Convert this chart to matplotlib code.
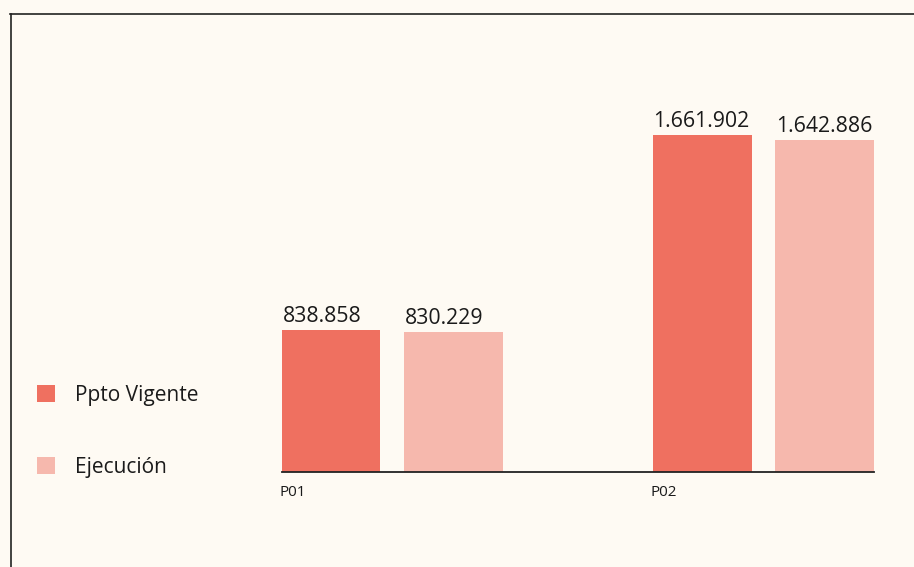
import matplotlib
matplotlib.use("Agg")
import matplotlib.pyplot as plt
from matplotlib.patches import Patch
from matplotlib.lines import Line2D
from matplotlib.transforms import ScaledTranslation
import numpy as np

plt.rcParams['font.family'] = ['Open Sans', 'DejaVu Sans']

categories = ["P01", "P02"]
series_names = ["Ppto Vigente", "Ejecución"]
ppto = [838858, 1661902]
ejec = [830229, 1642886]
value_labels_ppto = ["838.858", "1.661.902"]
value_labels_ejec = ["830.229", "1.642.886"]

colors = ["#EF7060", "#F6B8AD"]
bg = "#FEFAF3"

W, H = 914, 567
fig = plt.figure(figsize=(W / 100, H / 100), dpi=100, facecolor=bg)

left_px, right_px = 281.7, 873.5
bottom_px, top_px = 472.3, 60
ax = fig.add_axes([left_px / W, 1 - bottom_px / H, (right_px - left_px) / W, (bottom_px - top_px) / H])
ax.set_facecolor(bg)

x = np.arange(len(categories))
w = 0.266
off = 0.165
b1 = ax.bar(x - off, ppto, w, color=colors[0], label=series_names[0])
b2 = ax.bar(x + off, ejec, w, color=colors[1], label=series_names[1])

ax.set_xlim(-0.2965, 1.2965)
ax.set_ylim(238000, 1979000)

for bars, labs in ((b1, value_labels_ppto), (b2, value_labels_ejec)):
    for r, lab in zip(bars, labs):
        ax.annotate(lab, (r.get_x(), r.get_height()), xytext=(0.5, 2), textcoords="offset points",
                    ha="left", va="bottom", fontsize=15.3, color="#1a1a1a")

for s in ["top", "right", "left"]:
    ax.spines[s].set_visible(False)
ax.spines["bottom"].set_color("#222222")
ax.spines["bottom"].set_linewidth(1.3)
ax.set_yticks([])
ax.set_xticks(x - off - w / 2)
ax.set_xticklabels(categories, ha="left", fontsize=11, color="#1a1a1a")
ax.tick_params(axis="x", length=0, pad=9)
for lbl in ax.get_xticklabels():
    lbl.set_transform(lbl.get_transform() + ScaledTranslation(-2 / 100, 0, fig.dpi_scale_trans))

handles = [Patch(facecolor=c, edgecolor="none") for c in colors]
fig.legend(handles, series_names, loc="upper left", bbox_to_anchor=(18 / W, 1 - 366 / H),
           frameon=False, fontsize=15, handlelength=0.87, handleheight=0.87,
           handletextpad=0.95, labelspacing=2.45, labelcolor="#1a1a1a")

# outer frame lines (top and left)
fig.add_artist(Line2D([10.5 / W, 10.5 / W], [0, 1 - 14 / H], transform=fig.transFigure, color="#222222", lw=1.2))
fig.add_artist(Line2D([10 / W, 1], [1 - 14 / H, 1 - 14 / H], transform=fig.transFigure, color="#222222", lw=1.2))

fig.savefig("out.png", dpi=100, facecolor=bg)
